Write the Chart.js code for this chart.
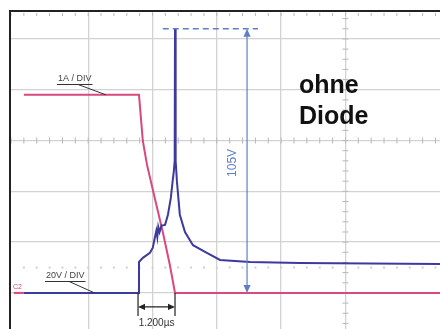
<!DOCTYPE html>
<html>
<head>
<meta charset="utf-8">
<script src="https://cdn.jsdelivr.net/npm/chart.js@4.4.1/dist/chart.umd.min.js"></script>
<style>
  html, body { margin: 0; padding: 0; background: #fff; }
  canvas { display: block; }
</style>
</head>
<body>
<canvas id="scope" width="440" height="329"></canvas>
<script>
// time axis in µs (2 µs / div), grid line 0 at the left
const xMin = -0.4;
const xMax = 12.94;
// vertical axis in divisions above the trace baseline
const yMin = -0.71;
const yMax = 5.55;

// current probe, 1 A / div
const currentTime = [0, 3.58, 3.70, 3.83, 4.07, 4.32, 4.54, 4.70, 12.94];
const currentAmps = [3.9, 3.9, 2.99, 2.52, 1.87, 1.20, 0.55, 0, 0];

// voltage probe, 20 V / div
const voltageTime = [0, 3.55, 3.58, 3.70, 3.92, 4.01, 4.07, 4.12, 4.15, 4.18, 4.22, 4.28, 4.39, 4.48, 4.57, 4.63, 4.66, 4.69, 4.70, 4.72, 4.76, 4.85, 5.01, 5.26, 5.69, 6.10, 7.03, 8.58, 12.94];
const voltageVolts = [0, 0, 12.2, 13.8, 15.8, 17.8, 21.6, 24.5, 22, 26, 24, 26.5, 26.8, 30.8, 37.4, 44.4, 47.6, 52, 104, 52, 43.8, 30.8, 24, 18.8, 15.8, 13, 12.2, 11.8, 11.4];

const ampsPerDiv = 1;
const voltsPerDiv = 20;
const pulseWidth = "1.200µs";
const peakLabel = "105V";

const pink = "#d9487f";
const blue = "#3c3a9e";
const lightBlue = "#5d7fc8";

function toPoints(xs, ys, perDiv) {
  return xs.map((x, i) => ({ x: x, y: ys[i] / perDiv }));
}

function arrowHead(ctx, x, y, dx, dy, size, color) {
  const len = Math.hypot(dx, dy);
  const ux = dx / len, uy = dy / len;
  ctx.fillStyle = color;
  ctx.beginPath();
  ctx.moveTo(x, y);
  ctx.lineTo(x - ux * size - uy * size * 0.45, y - uy * size + ux * size * 0.45);
  ctx.lineTo(x - ux * size + uy * size * 0.45, y - uy * size - ux * size * 0.45);
  ctx.closePath();
  ctx.fill();
}

function label(ctx, text, x, y, leaderTo) {
  ctx.font = "9px 'Liberation Sans', Arial, sans-serif";
  ctx.fillStyle = "#444";
  ctx.textAlign = "left";
  ctx.textBaseline = "alphabetic";
  ctx.fillText(text, x, y);
  const w = ctx.measureText(text).width;
  ctx.strokeStyle = "#333";
  ctx.lineWidth = 1;
  ctx.beginPath();
  ctx.moveTo(x - 1, y + 3.5);
  ctx.lineTo(x + w + 1, y + 3.5);
  ctx.moveTo(x + w * 0.6, y + 3.5);
  ctx.lineTo(leaderTo[0], leaderTo[1]);
  ctx.stroke();
}

const overlay = {
  id: "overlay",
  beforeDatasetsDraw(chart) {
    const ctx = chart.ctx;
    const xs = chart.scales.x, ys = chart.scales.y;
    const area = chart.chartArea;
    ctx.save();
    // centre cross with minor ticks
    ctx.strokeStyle = "#b8b8b8";
    ctx.lineWidth = 1;
    const cy = ys.getPixelForValue(3);
    const cx = xs.getPixelForValue(10);
    ctx.beginPath();
    for (let t = -0.4; t <= xMax; t += 0.4) {
      const px = xs.getPixelForValue(t);
      ctx.moveTo(px, cy - 3); ctx.lineTo(px, cy + 3);
      ctx.moveTo(px, area.top + 2); ctx.lineTo(px, area.top + 5);
    }
    for (let v = -0.6; v <= yMax; v += 0.2) {
      const py = ys.getPixelForValue(v);
      ctx.moveTo(cx - 3, py); ctx.lineTo(cx + 3, py);
    }
    ctx.stroke();
    // faint dotted row
    ctx.fillStyle = "#d0d0d0";
    const dy = ys.getPixelForValue(0.5);
    for (let t = 0; t <= xMax; t += 0.4) {
      ctx.fillRect(xs.getPixelForValue(t) - 1, dy - 1, 2, 2);
    }
    ctx.restore();
  },
  afterDatasetsDraw(chart) {
    const ctx = chart.ctx;
    const xs = chart.scales.x, ys = chart.scales.y;
    const area = chart.chartArea;
    ctx.save();
    // frame
    ctx.strokeStyle = "#222";
    ctx.lineWidth = 2;
    ctx.beginPath();
    ctx.moveTo(area.left - 1, area.bottom);
    ctx.lineTo(area.left - 1, area.top);
    ctx.lineTo(area.right, area.top);
    ctx.stroke();

    // channel marker
    ctx.fillStyle = pink;
    ctx.font = "7px 'Liberation Sans', Arial, sans-serif";
    ctx.textAlign = "left";
    ctx.textBaseline = "alphabetic";
    ctx.fillText("C2", 13, ys.getPixelForValue(0) - 4);

    // probe labels
    label(ctx, ampsPerDiv + "A / DIV", 58, 81, [xs.getPixelForValue(2.55), ys.getPixelForValue(3.9)]);
    label(ctx, voltsPerDiv + "V / DIV", 46, 278, [xs.getPixelForValue(2.2), ys.getPixelForValue(0)]);

    // peak measurement
    const peak = ys.getPixelForValue(voltageVolts[18] / voltsPerDiv);
    const base = ys.getPixelForValue(0);
    const ax = xs.getPixelForValue(6.94);
    ctx.strokeStyle = lightBlue;
    ctx.lineWidth = 1.5;
    ctx.setLineDash([6, 4]);
    ctx.beginPath();
    ctx.moveTo(xs.getPixelForValue(4.32), peak);
    ctx.lineTo(xs.getPixelForValue(7.28), peak);
    ctx.stroke();
    ctx.setLineDash([]);
    ctx.lineWidth = 1.2;
    ctx.beginPath();
    ctx.moveTo(ax, peak + 2);
    ctx.lineTo(ax, base - 2);
    ctx.stroke();
    arrowHead(ctx, ax, peak, 0, -1, 8, lightBlue);
    arrowHead(ctx, ax, base, 0, 1, 8, lightBlue);
    ctx.save();
    ctx.translate(ax - 14, ys.getPixelForValue(2.56));
    ctx.rotate(-Math.PI / 2);
    ctx.font = "12px 'Liberation Sans', Arial, sans-serif";
    ctx.fillStyle = lightBlue;
    ctx.textAlign = "center";
    ctx.textBaseline = "middle";
    ctx.fillText(peakLabel, 0, 0);
    ctx.restore();

    // pulse width bracket
    const x1 = xs.getPixelForValue(voltageTime[1]);
    const x2 = xs.getPixelForValue(currentTime[7]);
    const by = base + 14;
    ctx.strokeStyle = "#222";
    ctx.lineWidth = 1.2;
    ctx.beginPath();
    ctx.moveTo(x1, base); ctx.lineTo(x1, base + 23);
    ctx.moveTo(x2, base); ctx.lineTo(x2, base + 23);
    ctx.moveTo(x1 + 4, by); ctx.lineTo(x2 - 4, by);
    ctx.stroke();
    arrowHead(ctx, x1, by, -1, 0, 7, "#222");
    arrowHead(ctx, x2, by, 1, 0, 7, "#222");
    ctx.font = "10px 'Liberation Sans', Arial, sans-serif";
    ctx.fillStyle = "#333";
    ctx.textAlign = "center";
    ctx.textBaseline = "alphabetic";
    ctx.fillText(pulseWidth, (x1 + x2) / 2, base + 33);

    // caption
    ctx.font = "bold 25px 'Liberation Sans', Arial, sans-serif";
    ctx.fillStyle = "#111";
    ctx.textAlign = "left";
    ctx.fillText("ohne", 299, 93);
    ctx.fillText("Diode", 299, 124);
    ctx.restore();
  }
};

const majorX = (ctx) => {
  const v = ctx.tick ? ctx.tick.value : NaN;
  return Math.abs(v / 2 - Math.round(v / 2)) < 1e-6 ? "#d2d2d2" : "rgba(0,0,0,0)";
};
const majorY = (ctx) => {
  const v = ctx.tick ? ctx.tick.value : NaN;
  return Math.abs(v - Math.round(v)) < 1e-6 ? "#d2d2d2" : "rgba(0,0,0,0)";
};

new Chart(document.getElementById("scope"), {
  type: "line",
  data: {
    datasets: [
      {
        label: "Spannung",
        data: toPoints(voltageTime, voltageVolts, voltsPerDiv),
        borderColor: blue,
        borderWidth: 2,
        pointRadius: 0,
        tension: 0,
        order: 0
      },
      {
        label: "Strom",
        data: toPoints(currentTime, currentAmps, ampsPerDiv),
        borderColor: pink,
        borderWidth: 2,
        pointRadius: 0,
        tension: 0,
        order: 1
      },
      {
        label: "C2",
        data: toPoints([-0.31, 0], [0, 0], ampsPerDiv),
        borderColor: pink,
        borderWidth: 2,
        pointRadius: 0,
        order: 2
      }
    ]
  },
  options: {
    responsive: false,
    animation: false,
    devicePixelRatio: 1,
    layout: { padding: { left: 11, top: 11, right: 0, bottom: 0 } },
    plugins: { legend: { display: false }, tooltip: { enabled: false } },
    scales: {
      x: {
        type: "linear",
        min: xMin,
        max: xMax,
        ticks: { display: false, stepSize: 2 },
        grid: { drawTicks: false, color: majorX, lineWidth: 1.3 },
        border: { display: false }
      },
      y: {
        type: "linear",
        min: yMin,
        max: yMax,
        ticks: { display: false, stepSize: 1 },
        grid: { drawTicks: false, color: majorY, lineWidth: 1.3 },
        border: { display: false }
      }
    }
  },
  plugins: [overlay]
});
</script>
</body>
</html>
